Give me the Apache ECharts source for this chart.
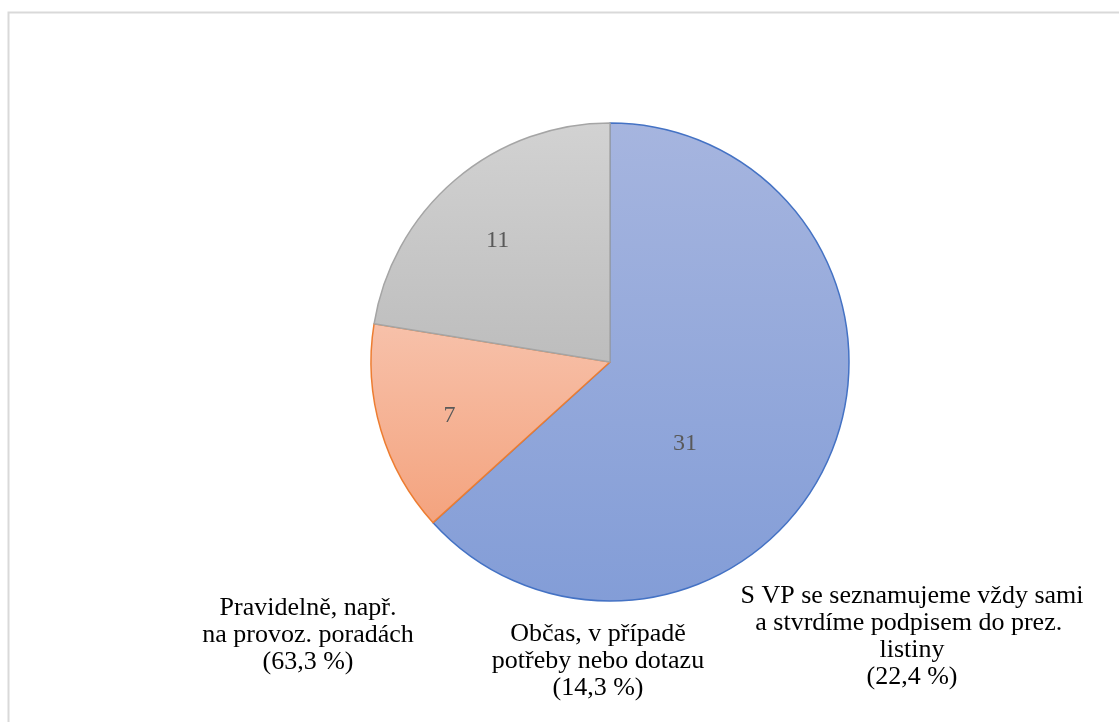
<!DOCTYPE html>
<html>
<head>
<meta charset="utf-8">
<script src="https://cdn.jsdelivr.net/npm/echarts@6/dist/echarts.min.js"></script>
<style>
  html, body { margin: 0; padding: 0; background: #fff; }
  #main { width: 1119px; height: 722px; }
</style>
</head>
<body>
<div id="main"></div>
<script>
var chart = echarts.init(document.getElementById('main'));

// data
var categories = [
    'Pravidelně, např.\nna provoz. poradách',
    'Občas, v případě\npotřeby nebo dotazu',
    'S VP se seznamujeme vždy sami\na stvrdíme podpisem do prez. \nlistiny'
];
var values = [31, 7, 11];
var shares = ['63,3', '14,3', '22,4'];

var fills = [
    ['#a6b5df', '#839dd7'],
    ['#f7c1aa', '#f4a37e'],
    ['#d2d2d2', '#bdbdbd']
];
var borders = ['#4472c4', '#ed7d31', '#a5a5a5'];
var labelOffsets = [[-37, 32], [-43, 19], [-33, -28]];
var textSpots = [[308, 595], [598, 621], [912, 583]];

var pieData = values.map(function (v, i) {
    return {
        value: v,
        name: categories[i],
        itemStyle: {
            color: new echarts.graphic.LinearGradient(0, 0, 0, 1, [
                { offset: 0, color: fills[i][0] },
                { offset: 1, color: fills[i][1] }
            ]),
            borderColor: borders[i],
            borderWidth: 1.5
        },
        label: { offset: labelOffsets[i] }
    };
});

var texts = categories.map(function (c, i) {
    return {
        type: 'text',
        x: textSpots[i][0],
        y: textSpots[i][1],
        style: {
            text: c + '\n(' + shares[i] + ' %)',
            font: '26px "Liberation Serif"',
            lineHeight: 27,
            fill: '#000',
            align: 'center',
            verticalAlign: 'top'
        }
    };
});

option = {
    backgroundColor: '#fff',
    animation: false,
    graphic: [
        {
            type: 'rect',
            shape: { x: 8.5, y: 12.5, width: 1130, height: 730 },
            style: { fill: 'none', stroke: '#d9d9d9', lineWidth: 2 },
            silent: true
        }
    ].concat(texts),
    series: [
        {
            type: 'pie',
            center: [610, 362],
            radius: 239,
            startAngle: 90,
            clockwise: true,
            avoidLabelOverlap: false,
            label: {
                show: true,
                position: 'inside',
                formatter: '{c}',
                fontFamily: 'Liberation Serif',
                fontSize: 24,
                color: '#595959'
            },
            labelLine: { show: false },
            emphasis: { disabled: true },
            data: pieData
        }
    ]
};

chart.setOption(option);
</script>
</body>
</html>
